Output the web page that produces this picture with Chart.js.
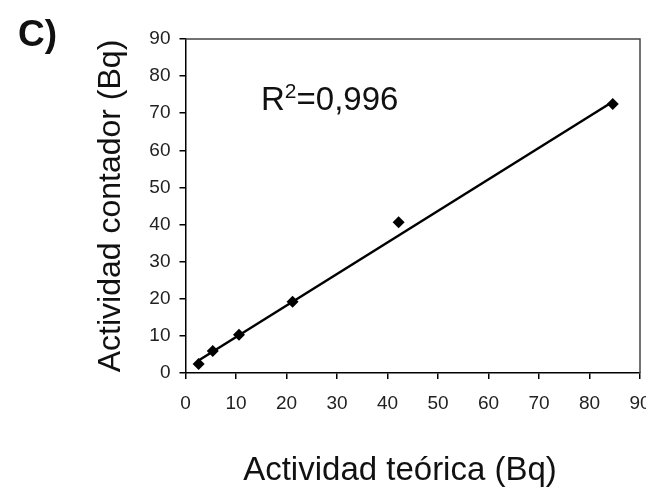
<!DOCTYPE html>
<html>
<head>
<meta charset="utf-8">
<script src="https://cdn.jsdelivr.net/npm/chart.js@4"></script>
<style>
  html, body { margin: 0; padding: 0; background: #fff; }
  #wrap { width: 646px; height: 490px; }
</style>
</head>
<body>
<div id="wrap"><canvas id="graphCanvas" width="646" height="490"></canvas></div>
<script>
// values
const teorica = [2.6, 5.4, 10.6, 21.2, 42.2, 84.6];
const contador = [2.4, 5.9, 10.3, 19.2, 40.6, 72.5];
const lineX = [2.5, 84.6];
const lineY = [3.3, 73.1];
const xTicks = [0, 10, 20, 30, 40, 50, 60, 70, 80, 90];
const yTicks = [0, 10, 20, 30, 40, 50, 60, 70, 80, 90];
const panel = "C)";
const r2Parts = ["R", "2", "=0,996"];
const xTitle = "Actividad teórica (Bq)";
const yTitle = "Actividad contador (Bq)";

const FONT = "'Liberation Sans', Arial, sans-serif";
const ctx = document.getElementById("graphCanvas").getContext("2d");

// box on top/right plus the free texts
const extras = {
  id: "extras",
  afterDraw(chart) {
    const { ctx, chartArea: a } = chart;
    ctx.save();
    ctx.strokeStyle = "#444";
    ctx.lineWidth = 1.5;
    ctx.beginPath();
    ctx.moveTo(a.left, a.top);
    ctx.lineTo(a.right, a.top);
    ctx.lineTo(a.right, a.bottom);
    ctx.stroke();

    ctx.fillStyle = "#111";
    ctx.textBaseline = "alphabetic";
    ctx.textAlign = "left";
    ctx.font = "bold 37px " + FONT;
    ctx.fillText(panel, 18, 46);

    // R² = 0,996 with a raised 2
    let x = 261;
    ctx.font = "33px " + FONT;
    ctx.fillText(r2Parts[0], x, 110);
    x += ctx.measureText(r2Parts[0]).width;
    ctx.font = "21px " + FONT;
    ctx.fillText(r2Parts[1], x, 98);
    x += ctx.measureText(r2Parts[1]).width;
    ctx.font = "33px " + FONT;
    ctx.fillText(r2Parts[2], x, 110);

    ctx.textAlign = "center";
    ctx.font = "33px " + FONT;
    ctx.fillText(xTitle, 400, 480);
    ctx.restore();
  }
};

new Chart(ctx, {
  type: "scatter",
  data: {
    datasets: [
      {
        data: lineX.map((x, i) => ({ x, y: lineY[i] })),
        showLine: true,
        borderColor: "#000",
        borderWidth: 2.5,
        pointRadius: 0,
        fill: false
      },
      {
        data: teorica.map((x, i) => ({ x, y: contador[i] })),
        pointStyle: "rectRot",
        pointRadius: 6,
        backgroundColor: "#000",
        borderColor: "#000",
        borderWidth: 0
      }
    ]
  },
  plugins: [extras],
  options: {
    responsive: false,
    animation: false,
    devicePixelRatio: 1,
    layout: { padding: { left: 0, top: 39, right: 5, bottom: 0 } },
    plugins: { legend: { display: false }, tooltip: { enabled: false } },
    scales: {
      x: {
        type: "linear",
        min: 0, max: 90,
        afterBuildTicks: s => { s.ticks = xTicks.map(v => ({ value: v })); },
        afterFit: s => { s.height = 117; s.paddingLeft = 0; s.paddingRight = 0; },
        ticks: { autoSkip: false, maxRotation: 0, padding: 13, color: "#222", font: { family: FONT, size: 19 } },
        grid: { drawOnChartArea: false, drawTicks: true, tickLength: 6, color: "#000", lineWidth: 1.5 },
        border: { display: true, color: "#000", width: 1.5 }
      },
      y: {
        type: "linear",
        min: 0, max: 90,
        afterBuildTicks: s => { s.ticks = yTicks.map(v => ({ value: v })); },
        afterFit: s => { s.width = 185.5; s.paddingTop = 0; s.paddingBottom = 0; },
        ticks: { autoSkip: false, padding: 9, color: "#222", font: { family: FONT, size: 19 } },
        grid: { drawOnChartArea: false, drawTicks: true, tickLength: 6, color: "#000", lineWidth: 1.5 },
        border: { display: true, color: "#000", width: 1.5 },
        title: {
          display: true,
          text: yTitle,
          color: "#111",
          font: { family: FONT, size: 32 },
          padding: { top: 92, bottom: 0 }
        }
      }
    }
  }
});
</script>
</body>
</html>
